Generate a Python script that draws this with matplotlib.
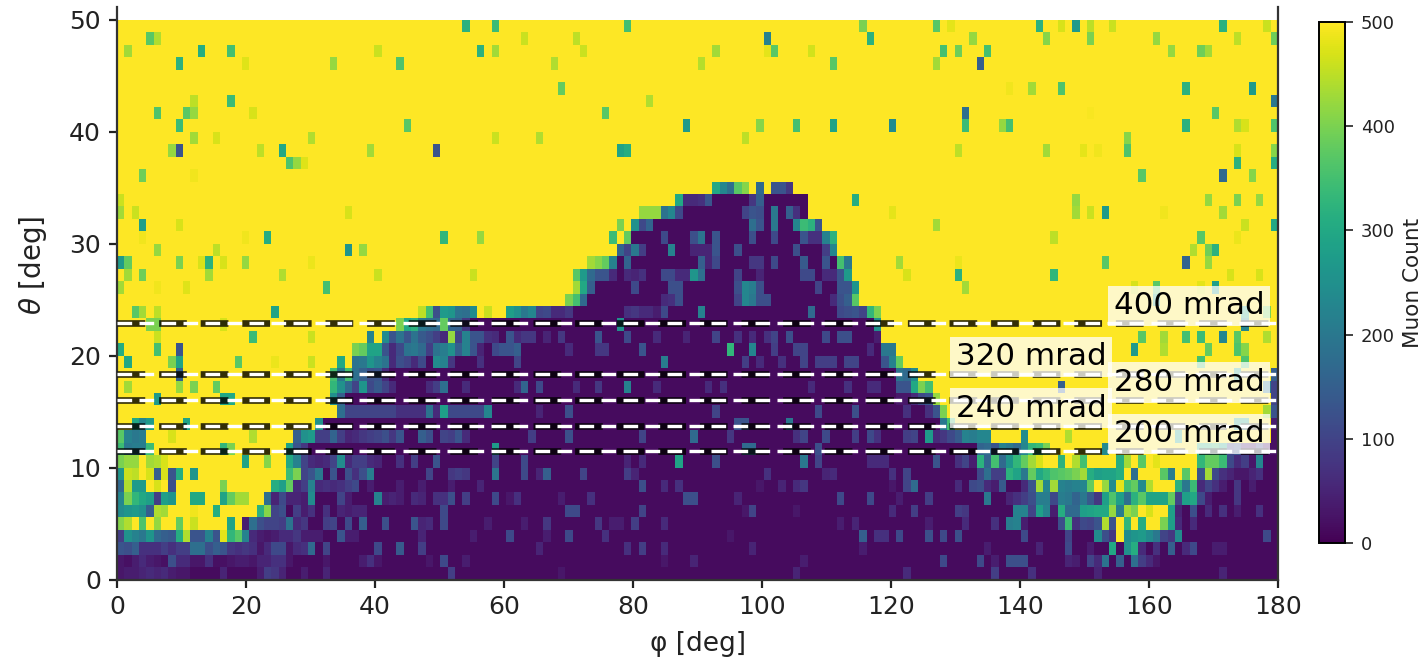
import numpy as np
import matplotlib
matplotlib.use('Agg')
import matplotlib.pyplot as plt

# Mapa de cuentas: 158 columnas en phi, 45 filas en theta (fila 0 = arriba)
n_phi = 158
n_theta = 45

# zona oscura (montana) por fila, -1 = fila sin zona oscura
dark_start = [-1]*14 + [77, 77, 71, 70, 70, 68, 64, 64, 64, 53, 48, 36, 36, 36, 33, 33, 31, 32, 28, 27,
                        25, 25, 25, 24, 21, 21, 17, 0, 0, 0, 0]
dark_end = [-1]*14 + [93, 93, 91, 95, 95, 97, 99, 100, 99, 101, 102, 103, 103, 103, 105, 105, 105, 111, 111, 112,
                      116, 157, 157, 157, 157, 157, 157, 157, 157, 157, 157]
dark_level = 15

# celdas sueltas: fila -> {columna: cuentas}
cells = {
    0: {47: 320, 51: 340, 69: 350, 101: 400, 111: 370, 113: 480, 125: 320, 128: 470, 130: 270, 132: 450, 135: 460, 150: 320, 156: 460},
    1: {4: 370, 5: 440, 55: 460, 62: 450, 88: 220, 102: 320, 116: 420, 126: 410, 132: 400, 141: 420, 152: 450, 157: 390},
    2: {1: 430, 11: 310, 15: 350, 35: 460, 49: 320, 51: 430, 63: 460, 81: 430, 88: 480, 89: 370, 94: 465, 112: 350, 114: 390, 118: 350, 143: 420, 147: 390, 148: 430},
    3: {8: 320, 17: 475, 29: 420, 38: 360, 59: 440, 79: 445, 97: 370, 111: 430, 117: 150},
    5: {60: 380, 121: 490, 124: 430, 128: 360, 145: 320, 154: 270},
    6: {10: 450, 15: 340, 72: 440, 157: 200},
    7: {5: 360, 9: 370, 10: 420, 18: 470, 66: 370, 115: 180, 132: 495, 149: 370},
    8: {8: 340, 39: 370, 77: 270, 87: 410, 92: 350, 97: 290, 105: 240, 115: 340, 120: 420, 121: 350, 145: 320, 152: 440, 153: 470, 157: 360},
    9: {10: 430, 13: 470, 26: 440, 51: 460, 57: 440, 85: 450, 137: 410},
    10: {7: 420, 8: 130, 19: 450, 22: 300, 34: 430, 43: 130, 68: 290, 69: 310, 114: 450, 126: 430, 131: 480, 133: 490, 137: 360, 152: 470, 157: 410},
    11: {23: 360, 24: 420, 25: 475, 152: 320, 157: 310},
    12: {3: 390, 10: 490, 139: 370, 150: 170, 154: 410},
    13: {81: 300, 82: 230, 83: 180, 84: 370, 85: 410, 87: 170, 89: 130, 90: 130, 91: 80},
    14: {0: 460, 76: 300, 77: 60, 78: 60, 79: 70, 80: 130, 86: 80, 87: 150, 100: 310, 130: 420, 148: 420, 152: 400, 155: 420},
    15: {0: 430, 2: 460, 31: 470, 71: 420, 72: 420, 73: 420, 74: 190, 75: 230, 76: 110, 85: 100, 86: 130, 87: 120, 89: 200, 91: 150, 92: 70, 105: 480, 130: 430, 132: 460, 134: 270, 142: 490, 150: 430},
    16: {3: 280, 8: 470, 68: 400, 70: 250, 71: 110, 72: 160, 86: 180, 87: 130, 89: 200, 92: 230, 93: 340, 94: 320, 95: 130, 111: 430, 153: 460, 157: 300},
    17: {3: 490, 17: 490, 20: 310, 44: 330, 49: 420, 67: 340, 69: 380, 74: 110, 78: 120, 79: 190, 81: 130, 86: 120, 89: 110, 93: 130, 94: 70, 95: 70, 96: 220, 97: 320, 127: 450, 147: 370, 152: 485},
    18: {5: 420, 13: 450, 31: 260, 33: 420, 68: 160, 69: 100, 70: 200, 71: 90, 75: 220, 78: 50, 79: 50, 80: 50, 81: 130, 84: 120, 92: 120, 96: 90, 97: 230, 146: 440, 148: 390, 149: 320},
    19: {0: 270, 1: 380, 8: 400, 11: 470, 12: 320, 14: 470, 17: 420, 26: 485, 64: 430, 65: 410, 66: 380, 67: 220, 69: 160, 79: 150, 80: 50, 81: 110, 86: 80, 87: 80, 89: 110, 93: 140, 96: 130, 98: 350, 99: 200, 106: 430, 114: 485, 134: 370, 145: 160, 148: 420},
    20: {1: 430, 3: 390, 12: 430, 22: 440, 35: 460, 48: 460, 62: 370, 63: 270, 64: 170, 65: 130, 66: 130, 67: 60, 69: 60, 70: 50, 71: 70, 74: 110, 75: 110, 76: 60, 77: 60, 78: 260, 79: 180, 84: 100, 87: 50, 93: 110, 94: 110, 96: 60, 97: 60, 98: 130, 99: 270, 107: 470, 114: 320, 127: 330, 151: 470, 155: 470},
    21: {0: 430, 5: 490, 9: 475, 28: 350, 62: 430, 63: 300, 64: 150, 70: 110, 75: 120, 76: 120, 84: 120, 85: 230, 86: 210, 87: 120, 95: 100, 98: 130, 99: 130, 100: 260, 115: 430, 138: 470, 141: 370, 147: 480, 149: 280},
    22: {61: 400, 62: 350, 63: 170, 74: 60, 75: 70, 76: 120, 84: 100, 85: 230, 86: 200, 87: 120, 88: 120, 97: 60, 98: 120, 99: 150, 100: 370, 141: 300},
    23: {2: 370, 3: 430, 5: 450, 21: 290, 41: 450, 42: 350, 43: 120, 44: 270, 45: 260, 46: 190, 47: 180, 48: 240, 50: 460, 53: 280, 54: 250, 55: 200, 56: 230, 57: 100, 58: 110, 59: 60, 60: 60, 61: 80, 69: 70, 70: 80, 71: 60, 72: 60, 73: 40, 74: 110, 79: 220, 94: 170, 98: 110, 99: 120, 100: 130, 101: 100, 102: 330, 103: 400, 153: 300, 156: 400},
    24: {4: 400, 5: 400, 14: 470, 38: 400, 39: 300, 40: 320, 41: 200, 42: 180, 43: 170, 44: 380, 45: 160, 46: 150, 47: 80, 68: 250, 103: 250, 153: 230},
    25: {5: 460, 18: 340, 26: 460, 34: 220, 36: 240, 37: 130, 38: 190, 39: 130, 40: 190, 41: 140, 42: 120, 43: 90, 44: 60, 45: 420, 46: 100, 47: 220, 48: 130, 49: 130, 50: 70, 51: 60, 53: 130, 54: 60, 55: 80, 56: 80, 58: 50, 60: 80, 65: 130, 69: 110, 73: 60, 77: 50, 81: 100, 84: 70, 86: 60, 88: 70, 89: 100, 91: 120, 96: 110, 98: 120, 99: 120, 103: 40, 139: 370, 142: 430, 145: 350, 147: 340, 150: 230, 152: 370, 156: 440},
    26: {0: 310, 5: 350, 8: 130, 32: 400, 33: 380, 34: 290, 35: 290, 36: 130, 37: 60, 38: 110, 39: 190, 40: 200, 41: 170, 42: 90, 43: 190, 44: 210, 45: 250, 46: 150, 47: 220, 48: 130, 49: 50, 51: 110, 52: 130, 53: 130, 54: 150, 61: 60, 65: 80, 66: 80, 71: 130, 83: 330, 86: 230, 89: 90, 92: 100, 93: 100, 102: 60, 104: 200, 105: 200, 138: 270, 142: 440, 148: 380, 152: 360, 153: 410},
    27: {1: 300, 7: 400, 8: 290, 16: 370, 21: 485, 26: 460, 30: 300, 32: 190, 33: 200, 34: 260, 35: 220, 36: 190, 37: 60, 38: 120, 39: 100, 40: 60, 41: 110, 43: 240, 44: 220, 45: 80, 49: 70, 54: 100, 74: 210, 85: 90, 87: 60, 90: 70, 93: 100, 95: 90, 96: 90, 97: 90, 99: 100, 100: 100, 104: 130, 105: 220, 106: 380, 147: 350, 153: 360},
    28: {8: 150, 29: 350, 30: 200, 31: 350, 32: 180, 33: 150, 34: 120, 35: 130, 36: 60, 106: 190, 107: 170, 108: 240, 152: 300, 157: 150},
    29: {1: 430, 8: 420, 10: 400, 13: 380, 29: 330, 30: 250, 31: 170, 32: 100, 33: 260, 34: 110, 35: 140, 36: 100, 37: 60, 42: 60, 43: 90, 44: 180, 47: 60, 54: 60, 55: 160, 57: 110, 62: 60, 65: 80, 69: 220, 73: 60, 80: 60, 82: 70, 94: 60, 99: 70, 102: 60, 103: 60, 106: 130, 107: 130, 108: 300, 109: 400, 110: 350, 128: 150, 156: 200, 157: 100},
    30: {5: 270, 14: 300, 15: 300, 29: 250, 30: 150, 106: 30, 107: 30, 108: 60, 109: 110, 110: 130, 111: 420, 157: 100},
    31: {30: 180, 31: 100, 32: 100, 33: 100, 34: 100, 35: 100, 36: 100, 37: 100, 38: 70, 39: 70, 40: 70, 41: 70, 42: 190, 43: 60, 44: 280, 45: 110, 46: 110, 47: 110, 48: 110, 49: 110, 50: 230, 57: 50, 61: 120, 81: 100, 95: 110, 100: 120, 107: 70, 110: 70, 111: 130, 112: 400, 156: 430, 157: 130},
    32: {2: 300, 3: 230, 4: 270, 9: 290, 27: 250, 84: 130, 85: 130, 91: 200, 112: 200, 113: 350, 152: 300, 153: 300, 157: 40},
    33: {0: 370, 1: 220, 2: 200, 3: 210, 7: 470, 18: 440, 24: 150, 25: 250, 26: 270, 27: 90, 28: 90, 29: 160, 30: 90, 31: 50, 32: 60, 33: 80, 34: 90, 35: 100, 36: 120, 37: 80, 38: 130, 41: 150, 42: 120, 44: 100, 45: 90, 46: 130, 47: 60, 56: 90, 61: 120, 71: 100, 78: 170, 83: 80, 92: 70, 93: 100, 96: 110, 100: 90, 102: 110, 103: 70, 107: 90, 108: 100, 110: 270, 111: 60, 112: 80, 113: 110, 114: 140, 115: 220, 116: 210, 117: 230, 118: 230, 123: 240, 129: 440, 144: 300, 157: 20},
    34: {0: 340, 1: 200, 2: 210, 3: 210, 4: 340, 14: 330, 15: 400, 23: 290, 24: 130, 25: 80, 51: 270, 85: 170, 86: 170, 95: 120, 117: 160, 118: 170, 119: 130, 120: 220, 121: 200, 122: 170, 123: 230, 124: 330, 125: 340, 126: 400, 134: 240, 147: 330, 148: 330, 149: 350, 150: 300, 151: 100, 152: 130, 153: 40, 154: 30, 155: 100, 156: 20, 157: 20},
    35: {0: 400, 1: 420, 2: 420, 4: 430, 5: 440, 6: 470, 17: 290, 20: 410, 23: 300, 24: 220, 25: 100, 26: 60, 27: 50, 28: 60, 29: 100, 30: 240, 31: 60, 32: 90, 33: 90, 34: 60, 35: 50, 38: 70, 40: 90, 43: 130, 51: 100, 55: 110, 69: 50, 71: 60, 76: 290, 81: 120, 93: 200, 95: 100, 102: 60, 103: 60, 104: 60, 111: 130, 114: 70, 115: 100, 116: 40, 117: 320, 118: 160, 119: 350, 120: 170, 121: 260, 122: 330, 123: 380, 124: 430, 125: 470, 126: 500, 127: 500, 128: 320, 129: 500, 130: 440, 131: 350, 132: 500, 133: 500, 134: 500, 135: 500, 136: 310, 137: 430, 138: 500, 139: 370, 140: 500, 141: 480, 142: 500, 143: 500, 144: 500, 145: 500, 146: 500, 147: 330, 148: 380, 149: 380, 150: 340, 151: 110, 152: 60, 153: 90, 154: 30, 155: 230},
    36: {0: 260, 1: 460, 2: 450, 4: 470, 5: 150, 6: 470, 7: 130, 8: 310, 10: 260, 23: 340, 24: 400, 25: 100, 26: 130, 27: 200, 29: 130, 31: 120, 32: 70, 33: 120, 34: 210, 42: 100, 45: 80, 46: 90, 47: 80, 51: 190, 55: 110, 57: 50, 58: 150, 63: 100, 69: 90, 70: 50, 88: 70, 96: 50, 97: 60, 105: 70, 107: 100, 117: 110, 118: 180, 119: 90, 120: 90, 121: 320, 122: 290, 123: 200, 124: 380, 125: 300, 126: 330, 127: 360, 128: 370, 129: 380, 130: 400, 131: 430, 132: 310, 133: 280, 134: 290, 135: 290, 136: 310, 137: 500, 138: 180, 139: 500, 140: 500, 141: 500, 142: 370, 143: 210, 144: 500, 145: 370, 146: 500, 147: 130, 148: 430, 149: 110, 150: 70, 151: 50, 152: 30, 153: 30, 154: 50, 155: 70},
    37: {0: 170, 1: 440, 2: 270, 3: 270, 5: 470, 7: 120, 14: 400, 21: 310, 22: 280, 23: 380, 24: 60, 25: 90, 26: 220, 27: 60, 28: 70, 29: 60, 30: 70, 31: 90, 32: 110, 34: 40, 38: 40, 41: 40, 45: 40, 49: 50, 71: 120, 74: 60, 76: 70, 87: 30, 90: 50, 92: 60, 93: 80, 105: 30, 107: 100, 108: 170, 114: 60, 116: 110, 117: 120, 118: 60, 119: 40, 120: 140, 123: 60, 124: 130, 125: 430, 126: 230, 127: 430, 128: 220, 129: 210, 130: 220, 131: 230, 132: 380, 133: 500, 134: 420, 135: 240, 136: 480, 137: 350, 138: 380, 139: 240, 140: 440, 141: 500, 142: 500, 143: 500, 144: 320, 145: 200, 146: 340, 147: 60, 148: 100, 149: 70, 150: 40, 152: 80, 154: 40},
    38: {0: 230, 1: 400, 2: 330, 3: 300, 4: 280, 5: 90, 6: 280, 7: 260, 10: 300, 11: 300, 14: 290, 15: 380, 16: 430, 17: 430, 20: 180, 21: 50, 22: 110, 23: 50, 24: 50, 25: 40, 26: 240, 30: 100, 31: 40, 35: 220, 36: 40, 37: 50, 38: 40, 40: 60, 41: 50, 43: 70, 44: 70, 45: 120, 47: 90, 51: 110, 53: 30, 54: 70, 60: 40, 64: 70, 77: 120, 78: 120, 84: 50, 98: 110, 102: 110, 106: 40, 110: 90, 118: 200, 121: 50, 122: 70, 123: 90, 124: 120, 125: 210, 126: 210, 127: 110, 128: 210, 129: 200, 130: 160, 131: 200, 132: 140, 133: 80, 134: 280, 135: 360, 136: 280, 137: 180, 138: 320, 139: 370, 140: 290, 141: 290, 142: 290, 143: 380, 144: 100, 145: 280, 146: 300, 147: 110, 148: 40, 152: 80},
    39: {0: 240, 1: 260, 2: 270, 3: 250, 4: 150, 5: 440, 6: 430, 10: 490, 13: 310, 19: 320, 20: 410, 21: 100, 22: 120, 24: 90, 25: 40, 26: 70, 28: 70, 30: 50, 31: 40, 32: 50, 33: 50, 44: 110, 61: 110, 62: 110, 71: 100, 85: 30, 86: 100, 92: 30, 105: 60, 108: 90, 114: 90, 115: 80, 122: 220, 123: 220, 124: 100, 125: 280, 126: 220, 127: 40, 128: 310, 129: 170, 130: 170, 131: 280, 132: 290, 133: 300, 134: 300, 135: 420, 136: 210, 137: 430, 138: 400, 139: 500, 140: 470, 141: 500, 142: 500, 143: 280, 144: 50, 146: 120, 148: 60, 150: 70, 152: 40, 155: 70},
    40: {0: 410, 1: 440, 3: 360, 5: 420, 8: 380, 10: 460, 15: 290, 17: 40, 18: 180, 19: 120, 20: 100, 21: 100, 22: 90, 23: 190, 24: 60, 25: 80, 28: 90, 29: 100, 31: 110, 33: 150, 36: 120, 40: 130, 41: 50, 42: 60, 44: 110, 50: 40, 55: 40, 58: 80, 65: 80, 67: 40, 68: 40, 70: 90, 74: 60, 98: 40, 100: 50, 110: 40, 115: 60, 119: 70, 121: 210, 122: 220, 123: 40, 128: 120, 129: 340, 130: 70, 131: 110, 132: 100, 133: 130, 134: 440, 135: 130, 136: 500, 137: 330, 138: 500, 139: 310, 140: 500, 141: 500, 142: 400, 143: 280, 144: 60, 146: 60},
    41: {0: 90, 1: 250, 2: 220, 3: 200, 4: 260, 5: 170, 6: 150, 7: 140, 8: 310, 9: 440, 10: 130, 11: 130, 12: 220, 13: 130, 14: 480, 15: 330, 16: 370, 17: 220, 18: 60, 19: 40, 20: 30, 21: 40, 22: 60, 23: 60, 24: 80, 25: 40, 26: 40, 27: 40, 30: 130, 31: 40, 32: 40, 41: 50, 48: 40, 53: 110, 58: 40, 61: 110, 66: 70, 83: 30, 101: 150, 103: 70, 104: 70, 106: 110, 110: 120, 112: 110, 114: 120, 123: 110, 129: 100, 133: 240, 134: 120, 135: 80, 136: 500, 137: 240, 138: 260, 139: 270, 140: 240, 141: 200, 142: 100, 143: 80, 144: 240, 156: 110},
    42: {0: 130, 1: 120, 2: 150, 3: 70, 4: 70, 5: 70, 6: 90, 7: 70, 8: 90, 9: 90, 10: 180, 11: 180, 12: 120, 13: 150, 14: 130, 15: 80, 16: 70, 17: 80, 18: 70, 19: 30, 20: 60, 21: 110, 22: 110, 23: 30, 24: 60, 25: 70, 26: 170, 28: 100, 35: 110, 38: 140, 41: 90, 57: 50, 69: 70, 71: 90, 74: 60, 86: 50, 101: 40, 118: 40, 125: 50, 129: 110, 132: 40, 135: 300, 137: 250, 138: 310, 139: 60, 141: 70, 143: 150, 145: 60, 146: 110, 149: 40, 150: 40},
    43: {0: 30, 1: 20, 2: 40, 3: 60, 4: 40, 5: 30, 6: 20, 7: 120, 8: 60, 9: 60, 10: 30, 11: 30, 12: 70, 13: 20, 14: 20, 15: 30, 16: 40, 17: 40, 18: 30, 19: 50, 20: 50, 21: 70, 22: 70, 23: 30, 28: 30, 33: 40, 34: 70, 35: 30, 42: 30, 44: 110, 47: 40, 74: 30, 78: 50, 93: 40, 112: 110, 117: 110, 119: 40, 121: 120, 122: 120, 123: 120, 129: 50, 130: 40, 132: 100, 133: 60, 134: 190, 136: 150, 138: 180, 139: 90, 140: 60, 141: 30},
    44: {0: 30, 1: 40, 2: 40, 3: 50, 4: 60, 5: 50, 6: 60, 7: 40, 8: 30, 9: 30, 14: 50, 19: 40, 20: 90, 21: 80, 22: 50, 25: 40, 28: 50, 45: 90, 60: 30, 92: 50, 107: 60, 119: 90, 124: 70, 133: 50, 150: 50},
}

# Lineas de angulo y etiquetas (mrad, x del texto)
mrad_lines = [200, 240, 280, 320, 400]
label_x = [154.5, 130.0, 154.5, 130.0, 154.5]

grid = np.full((n_theta, n_phi), 500.0)
for row in range(n_theta):
    if dark_start[row] >= 0:
        grid[row, dark_start[row]:dark_end[row] + 1] = dark_level
    for col, val in cells.get(row, {}).items():
        grid[row, col] = val

phi_edges = np.linspace(0, 180, n_phi + 1)
theta_edges = np.linspace(0, 50, n_theta + 1)

fig = plt.figure(figsize=(14.27, 6.64), dpi=100)
ax = fig.add_axes([117/1427, 1 - 579.5/664, 1161/1427, 572.5/664])
mesh = ax.pcolormesh(phi_edges, theta_edges, grid[::-1], cmap='viridis', vmin=0, vmax=500)

for m, tx in zip(mrad_lines, label_x):
    th = np.degrees(m/1000)
    ax.plot([0, 180], [th, th], color='black', lw=4.8, alpha=0.8, dashes=(4.16, 2.08), zorder=3)
    ax.plot([0, 180], [th, th], color='white', lw=2.4, dashes=(4.4, 2.2), zorder=4)
    ax.text(tx, th + 0.8, f'{m} mrad', fontsize=22.3, color='black', ha='left', va='baseline', zorder=5,
            bbox=dict(facecolor='white', alpha=0.75, edgecolor='none', pad=4))

ax.set_xlim(0, 180)
ax.set_ylim(0, 50*572.5/559.5)
ax.set_xticks(range(0, 181, 20))
ax.set_yticks(range(0, 51, 10))
ax.tick_params(labelsize=18, length=6, width=1.6, pad=5.5, color='#222222', labelcolor='#222222')
ax.spines['top'].set_visible(False)
for side in ['left', 'right', 'bottom']:
    ax.spines[side].set_linewidth(1.6)
    ax.spines[side].set_color('#333333')
ax.set_xlabel('φ [deg]', fontsize=19, color='#222222', labelpad=8)
ax.set_ylabel(r'$\theta$ [deg]', fontsize=20, color='#222222')
ax.yaxis.set_label_coords(-0.0584, 0.549)

cax = fig.add_axes([1319/1427, 1 - 543/664, 26/1427, 521/664])
cbar = fig.colorbar(mesh, cax=cax)
cbar.set_ticks([0, 100, 200, 300, 400, 500])
cbar.ax.tick_params(labelsize=13, length=6, width=1.2, pad=5.5, color='#222222', labelcolor='#222222')
cbar.set_label('Muon Count', fontsize=15.5, color='#222222', labelpad=6)
cbar.outline.set_linewidth(1.4)

fig.savefig('out.png', dpi=100)
